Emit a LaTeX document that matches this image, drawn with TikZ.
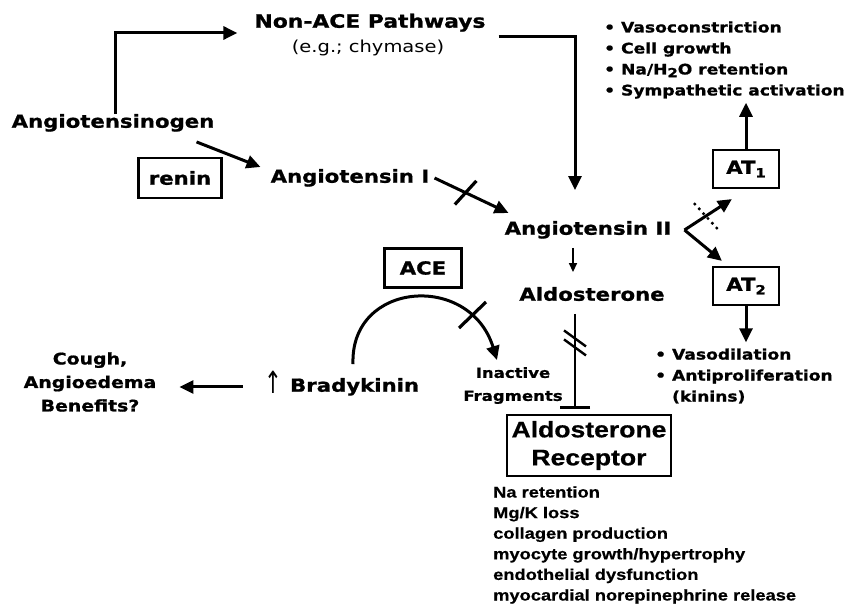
\documentclass[tikz,border=0pt]{standalone}
\usepackage{graphicx}
\usepackage{fontspec}
\setmainfont{DejaVu Sans}[FakeStretch=1.18, BoldFeatures={FakeBold=1}]
\newfontfamily\arialb{Liberation Sans}[FakeStretch=1.18, BoldFeatures={FakeBold=0.6}]
\usetikzlibrary{arrows.meta,calc}
\newcommand\lowsub[1]{\raisebox{-0.35ex}{\fontsize{12.5}{12.5}\selectfont #1}}
\tikzset{
  lbl/.style={font=\bfseries\fontsize{18}{22}\selectfont, inner sep=0pt, text height=13.5pt, text depth=4pt},
  boxn/.style={draw, line width=2.2pt, font=\bfseries\fontsize{18}{22}\selectfont, inner sep=0pt},
  arr/.style={line width=3pt, -{Triangle[length=14pt,width=13pt]}},
  thinarr/.style={line width=1.6pt, -{Triangle[length=9pt,width=8pt]}},
  blk/.style={line width=3.2pt},
  dotbar/.style={line width=3.4pt, line cap=round, dash pattern=on 0pt off 6.5pt},
  listn/.style={anchor=west, align=left, inner sep=0pt, font=\bfseries\fontsize{14.5}{21}\selectfont},
}
\begin{document}
\begin{tikzpicture}[x=1pt,y=-1pt]
\fill[white] (0,0) rectangle (847,604);
\useasboundingbox (0,0) rectangle (847,604);

% nodes
\node[lbl, font=\bfseries\fontsize{18.5}{22}\selectfont] (nonace) at (370,23) {Non-ACE Pathways};
\node[inner sep=0pt, font=\fontsize{16.5}{20}\selectfont] (chym) at (368,48) {(e.g.; chymase)};
\node[lbl] (agen) at (113,123) {Angiotensinogen};
\node[boxn, minimum width=83pt, minimum height=40pt] (renin) at (180,178) {renin};
\node[lbl] (ang1) at (350,178) {Angiotensin I};
\node[lbl] (ang2) at (588,230) {Angiotensin II};
\node[lbl] (aldo) at (592,296) {Aldosterone};
\node[boxn, minimum width=77pt, minimum height=39pt] (ace) at (423,268) {ACE};
\node[lbl] (brady) at (342,387) {{\mdseries\raisebox{-2pt}{\scalebox{1}[1.7]{↑}}} Bradykinin};
\node[align=center, inner sep=0pt, font=\bfseries\fontsize{16}{23.5}\selectfont] (cough) at (90,382) {Cough,\\Angioedema\\Benefits?};
\node[align=center, inner sep=0pt, anchor=north, font=\bfseries\fontsize{14}{23}\selectfont] (inact) at (513,367) {Inactive\\Fragments};
\node[draw, line width=2.2pt, minimum width=164pt, minimum height=61pt, align=center, inner sep=0pt, font=\arialb\bfseries\fontsize{22.5}{28}\selectfont] (rec) at (589,445.5) {Aldosterone\\Receptor};
\node[anchor=west, align=left, inner sep=0pt, font=\arialb\bfseries\fontsize{15.5}{20.6}\selectfont] (eff) at (493,545) {Na retention\\Mg/K loss\\collagen production\\myocyte growth/hypertrophy\\endothelial dysfunction\\myocardial norepinephrine release};
\node[boxn, minimum width=66pt, minimum height=38pt] (at1) at (746,169) {AT\lowsub{1}};
\node[boxn, minimum width=66pt, minimum height=38pt] (at2) at (746,286) {AT\lowsub{2}};
\node[listn] (top) at (604,60) {• Vasoconstriction\\• Cell growth\\• Na/H\lowsub{2}O retention\\• Sympathetic activation};
\node[listn] (vas) at (655,376) {• Vasodilation\\• Antiproliferation\\\phantom{• }(kinins)};

% Angiotensinogen -> Non-ACE
\draw[arr] ([xshift=2pt]agen.north) |- ([shift={(-17,10)}]nonace.west);
% Non-ACE -> Angiotensin II
\draw[arr] ([shift={(13,14)}]nonace.east) -| ([shift={(-13,-31)}]ang2.north);
% Angiotensinogen -> Angiotensin I
\draw[arr] ([shift={(-18,10)}]agen.south east) -- ([shift={(-10,-11)}]ang1.west);
% Angiotensin I -> Angiotensin II with block
\coordinate (a1s) at ([shift={(5,0)}]ang1.east);
\coordinate (a1e) at ([shift={(4,-17)}]ang2.west);
\draw[arr] (a1s) -- (a1e);
\coordinate (a1m) at ($(a1s)!0.42!(a1e)$);
\draw[blk] ($(a1m)!16pt!73:(a1e)$) -- ($(a1m)!-16pt!73:(a1e)$);
% Angiotensin II -> Aldosterone
\draw[thinarr] ([shift={(-15,9)}]ang2.south) -- ([shift={(-19,-15)}]aldo.north);
% Aldosterone -| Receptor
\coordinate (als) at ([shift={(-17,9)}]aldo.south);
\coordinate (rct) at ([shift={(-14,-5)}]rec.north);
\draw[line width=2.4pt, -{Bar[width=30pt,line width=2.6pt]}] (als) -- (rct);
\coordinate (ds) at ($(als)!0.3!(rct)$);
\draw[line width=2.4pt] ([shift={(-11,-12)}]ds) -- ([shift={(11,4)}]ds);
\draw[line width=2.4pt] ([shift={(-11,-3)}]ds) -- ([shift={(11,13)}]ds);
% Bradykinin -> inactive fragments (ACE arc)
\coordinate (bs) at ([shift={(11,-14)}]brady.north);
\coordinate (be) at ([shift={(-16,-7)}]inact.north);
\draw[arr] (bs) .. controls +(-3,-83) and +(-27,-88) .. (be);
\coordinate (acebar) at ([shift={(50,47)}]ace.center);
\draw[blk] ([shift={(-14,13)}]acebar) -- ([shift={(13,-13)}]acebar);
% Bradykinin -> Cough
\draw[arr] ([xshift=-22pt]brady.west) -- ([shift={(23,5)}]cough.east);
% Angiotensin II -> AT1 / AT2
\coordinate (v) at ([shift={(13,0)}]ang2.east);
\coordinate (t1) at ([shift={(20,10)}]at1.south west);
\coordinate (t2) at ([shift={(10,-5)}]at2.north west);
\draw[arr] (v) -- (t1);
\draw[arr] (v) -- (t2);
\coordinate (vm) at ($(v)!0.45!(t1)$);
\draw[dotbar] ([shift={(-11,-12)}]vm) -- ([shift={(11,12)}]vm);
% AT1 up, AT2 down
\draw[arr] (at1.north) -- ([yshift=-4pt]top.south -| at1.north);
\draw[arr] (at2.south) -- ([yshift=6pt]vas.north -| at2.south);
\end{tikzpicture}
\end{document}
